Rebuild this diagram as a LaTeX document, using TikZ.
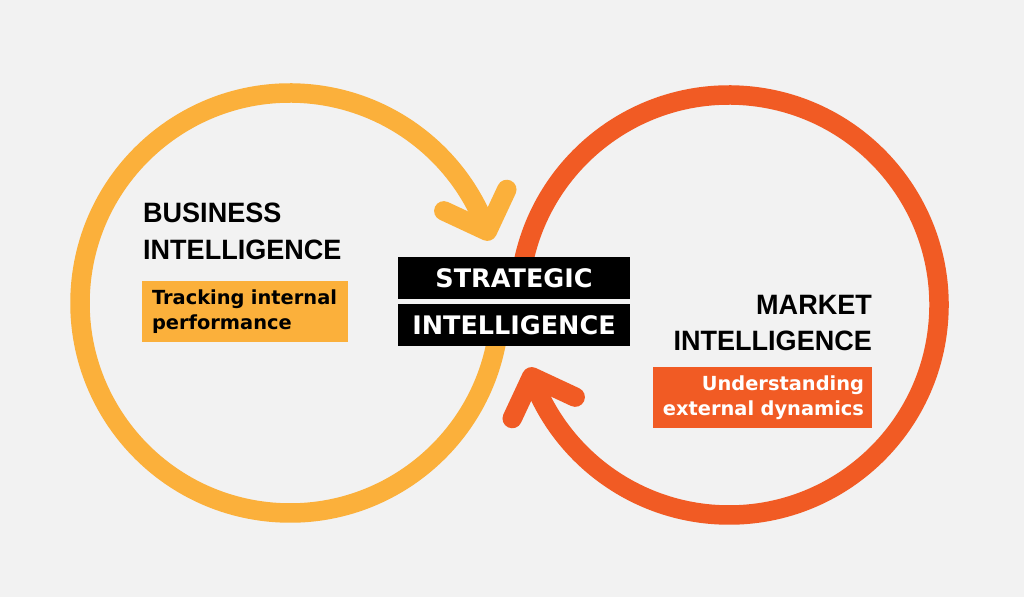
\documentclass[tikz,border=0pt]{standalone}
\usepackage{fontspec}
\setmainfont{DejaVu Sans}
\newfontfamily\titlefont[FakeStretch=0.965]{Liberation Sans}
\newfontfamily\boxfont{DejaVu Sans}
\definecolor{bgc}{HTML}{F2F2F2}
\definecolor{ylw}{HTML}{FBB03B}
\definecolor{org}{HTML}{F15B24}
\tikzset{
  ring/.style={line width=19.5pt, line cap=round, line join=round},
  chev/.style={line width=19.5pt, line cap=round, line join=round},
  stratbox/.style={fill=black, text=white, minimum width=232pt, minimum height=42pt, inner sep=0pt,
    font=\boxfont\bfseries\fontsize{25.5}{28}\selectfont},
  titletext/.style={inner sep=0pt, text=black, font=\titlefont\bfseries\fontsize{28}{36.5}\selectfont},
  tagbox/.style={inner ysep=0pt, minimum height=61pt, font=\boxfont\bfseries\fontsize{19.4}{25}\selectfont}
}
\begin{document}
\begin{tikzpicture}[x=1pt,y=1pt]
\fill[bgc] (0,0) rectangle (1024,597);
\useasboundingbox (0,0) rectangle (1024,597);
% centres
\coordinate (L) at (290,294);
\coordinate (R) at (729,292);
\coordinate (Ltip) at ([shift={(20:210)}]L);
\coordinate (Rtip) at ([shift={(200:210)}]R);
% left ring (business)
\draw[ring, ylw, line cap=butt] ([shift={(-5:210)}]L) arc[start angle=-5, end angle=-340, radius=210];
\draw[chev, ylw] ([shift={(155:48)}]Ltip) -- (Ltip) -- ([shift={(65:46)}]Ltip);
% right ring (market)
\draw[ring, org, line cap=butt] ([shift={(175:210)}]R) arc[start angle=175, end angle=-160, radius=210];
\draw[chev, org] ([shift={(335:48)}]Rtip) -- (Rtip) -- ([shift={(245:46)}]Rtip);
% strategic
\node[stratbox] (s1) at (514,319) {STRATEGIC};
\node[stratbox] (s2) at (514,272) {INTELLIGENCE};
% business
\node[titletext, anchor=north west, align=left] (bi) at (143,394) {BUSINESS\\INTELLIGENCE};
\node[tagbox, fill=ylw, text=black, inner xsep=10pt, text width=186pt, align=left] (bt) at (245,285.5)
  {Tracking internal\\performance};
% market
\node[titletext, anchor=north east, align=right] (mi) at (872,302) {MARKET\\INTELLIGENCE};
\node[tagbox, fill=org, text=white, inner xsep=8pt, text width=203pt, align=right] (mt) at (762.5,199.5)
  {Understanding\\external dynamics};
\end{tikzpicture}
\end{document}
